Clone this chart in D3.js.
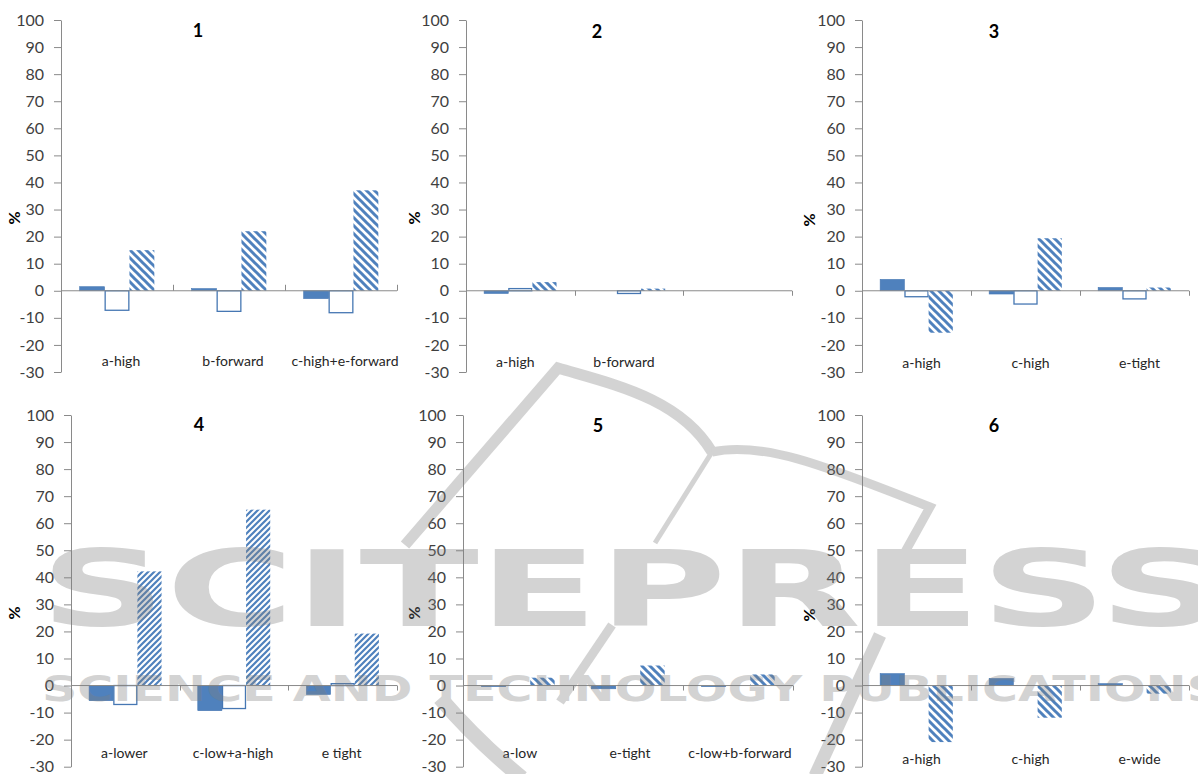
<!DOCTYPE html>
<html>
<head>
<meta charset="utf-8">
<script src="https://cdn.jsdelivr.net/npm/d3@7/dist/d3.min.js"></script>
<style>
  html, body { margin: 0; padding: 0; background: #ffffff; }
  svg { display: block; }
</style>
</head>
<body>
<svg id="chart" width="1198" height="774"></svg>
<script>
// ---- data ----
const panelTitles = ["1", "2", "3", "4", "5", "6"];

const categories1 = ["a-high", "b-forward", "c-high+e-forward"];
const categories2 = ["a-high", "b-forward", ""];
const categories3 = ["a-high", "c-high", "e-tight"];
const categories4 = ["a-lower", "c-low+a-high", "e tight"];
const categories5 = ["a-low", "e-tight", "c-low+b-forward"];
const categories6 = ["a-high", "c-high", "e-wide"];

// one row per panel, one value per category (%)
const solidValues = [
  [1.5, 0.8, -2.9],
  [-1.0, 0, null],
  [4.2, -1.2, 1.2],
  [-5.6, -9.3, -3.3],
  [-0.4, -1.2, -0.4],
  [4.4, 2.6, 0.7]
];
const outlineValues = [
  [-7.2, -7.6, -8.1],
  [0.8, -1.0, null],
  [-2.2, -4.9, -3.0],
  [-7.0, -8.5, 0.7],
  [0, 0, 0],
  [0, 0, 0]
];
const hatchedValues = [
  [15.0, 22.0, 37.1],
  [3.2, 0.8, null],
  [-15.5, 19.4, 1.2],
  [42.2, 65.0, 19.2],
  [2.9, 7.4, 4.1],
  [-20.9, -11.9, -3.0]
];

const yTickValues = [-30, -20, -10, 0, 10, 20, 30, 40, 50, 60, 70, 80, 90, 100];
const yDomain = [-30, 100];

// ---- layout ----
const allCategories = [categories1, categories2, categories3, categories4, categories5, categories6];
const layout = [
  { x0: 61,  x1: 397,  top: 20,  bottom: 372,   titleX: 198, titleY: 37,  pctX: 15,  pctY: 218, labelY: 366, labelDx: 4,  tickUp: true,  hatch: "hatchDown" },
  { x0: 466, x1: 792,  top: 20,  bottom: 372,   titleX: 597, titleY: 38,  pctX: 415, pctY: 218, labelY: 367, labelDx: -5, tickUp: false, hatch: "hatchDown" },
  { x0: 862, x1: 1189, top: 20,  bottom: 372,   titleX: 994, titleY: 38,  pctX: 810, pctY: 220, labelY: 368, labelDx: 5,  tickUp: false, hatch: "hatchDown" },
  { x0: 71,  x1: 397,  top: 415, bottom: 766.7, titleX: 199, titleY: 431, pctX: 15,  pctY: 613, labelY: 758, labelDx: -1, tickUp: false, hatch: "hatchUp" },
  { x0: 463, x1: 793,  top: 415, bottom: 766.7, titleX: 598, titleY: 432, pctX: 415, pctY: 613, labelY: 758, labelDx: 2,  tickUp: false, hatch: "hatchDown" },
  { x0: 862, x1: 1189, top: 415, bottom: 766.7, titleX: 994, titleY: 432, pctX: 810, pctY: 615, labelY: 764, labelDx: 5,  tickUp: false, hatch: "hatchDown" }
];

const BLUE = "#4F81BD";
const BAR_EDGE = "#4677B3";
const AXIS = "#8a8a8a";
const FONT = "Lato, 'Open Sans', sans-serif";

const svg = d3.select("#chart");
const defs = svg.append("defs");

// wide downward diagonal hatch
const pDown = defs.append("pattern")
  .attr("id", "hatchDown").attr("patternUnits", "userSpaceOnUse")
  .attr("width", 8).attr("height", 8);
pDown.append("rect").attr("width", 8).attr("height", 8).attr("fill", "#ffffff");
pDown.append("path")
  .attr("d", "M0,0 L8,8 M-2,6 L2,10 M6,-2 L10,2")
  .attr("stroke", BLUE).attr("stroke-width", 3).attr("fill", "none");

// upward diagonal hatch, finer
const pUp = defs.append("pattern")
  .attr("id", "hatchUp").attr("patternUnits", "userSpaceOnUse")
  .attr("width", 6).attr("height", 6);
pUp.append("rect").attr("width", 6).attr("height", 6).attr("fill", "#ffffff");
pUp.append("path")
  .attr("d", "M0,6 L6,0 M-1.5,1.5 L1.5,-1.5 M4.5,7.5 L7.5,4.5")
  .attr("stroke", BLUE).attr("stroke-width", 2.2).attr("fill", "none");

panelTitles.forEach((title, p) => {
  const L = layout[p];
  const cats = allCategories[p];
  const g = svg.append("g");

  const y = d3.scaleLinear().domain(yDomain).range([L.bottom, L.top]);
  const x = d3.scaleBand().domain(d3.range(cats.length)).range([L.x0, L.x1]).paddingInner(0).paddingOuter(0);
  const xs = d3.scaleBand().domain([0, 1, 2]).range([0, x.bandwidth()]).paddingInner(0).paddingOuter(0.75);

  // y axis
  const yAxis = d3.axisLeft(y)
    .tickValues(yTickValues)
    .tickSize(7).tickSizeOuter(0).tickPadding(10)
    .tickFormat(d => String(d));
  const ya = g.append("g").attr("transform", `translate(${L.x0},0)`).call(yAxis);
  ya.select(".domain").attr("stroke", AXIS);
  ya.selectAll(".tick line").attr("stroke", AXIS);
  ya.selectAll(".tick text")
    .attr("fill", "#3f3f3f")
    .style("font-family", FONT).style("font-size", "16px");

  // bars
  const series = [solidValues[p], outlineValues[p], hatchedValues[p]];
  series.forEach((vals, s) => {
    const data = vals.map((v, i) => ({ v, i })).filter(d => d.v !== null);
    const bars = g.append("g").selectAll("rect").data(data).join("rect")
      .attr("x", d => x(d.i) + xs(s))
      .attr("width", xs.bandwidth())
      .attr("y", d => y(Math.max(0, d.v)))
      .attr("height", d => Math.abs(y(d.v) - y(0)));
    if (s === 0) {
      bars.attr("fill", BLUE).attr("stroke", BAR_EDGE).attr("stroke-width", 0.6);
    } else if (s === 1) {
      bars.attr("fill", "#ffffff").attr("stroke", BAR_EDGE).attr("stroke-width", 1.3)
        .attr("x", d => x(d.i) + xs(s) + 0.6)
        .attr("width", xs.bandwidth() - 1.2);
    } else {
      bars.attr("fill", `url(#${L.hatch})`);
    }
  });

  // x axis line at zero, with category dividers
  const y0 = y(0);
  g.append("line")
    .attr("x1", L.x0).attr("x2", L.x1)
    .attr("y1", y0).attr("y2", y0)
    .attr("stroke", AXIS).attr("stroke-width", 1);
  const dividers = d3.range(1, cats.length + 1).map(i => L.x0 + i * x.step());
  g.append("g").selectAll("line").data(dividers).join("line")
    .attr("x1", d => Math.round(d) + 0.5).attr("x2", d => Math.round(d) + 0.5)
    .attr("y1", y0).attr("y2", L.tickUp ? y0 - 6 : y0 + 5)
    .attr("stroke", AXIS).attr("stroke-width", 1);

  // category labels
  g.append("g").selectAll("text").data(cats).join("text")
    .attr("x", (d, i) => x(i) + x.bandwidth() / 2 + L.labelDx)
    .attr("y", L.labelY)
    .attr("text-anchor", "middle")
    .attr("fill", "#262626")
    .style("font-family", FONT).style("font-size", "14px")
    .text(d => d);

  // panel title
  g.append("text")
    .attr("x", L.titleX).attr("y", L.titleY)
    .attr("text-anchor", "middle")
    .attr("fill", "#000000")
    .style("font-family", FONT).style("font-size", "18px").style("font-weight", "bold")
    .text(title);

  // y axis title
  g.append("text")
    .attr("transform", `translate(${L.pctX + 5},${L.pctY}) rotate(-90)`)
    .attr("text-anchor", "middle")
    .attr("fill", "#000000")
    .style("font-family", FONT).style("font-size", "16px").style("font-weight", "bold")
    .text("%");
});

// publisher watermark laid over the page
const wm = svg.append("g").attr("opacity", 0.34).attr("pointer-events", "none");
const swoosh = [
  { d: "M405,545 L558,368 C612,384 680,398 712,452", w: 11 },
  { d: "M712,452 C765,440 835,470 930,507 L905,552", w: 9 },
  { d: "M712,452 L655,543", w: 5 },
  { d: "M880,635 L815,776", w: 13 },
  { d: "M612,625 L560,702", w: 9 },
  { d: "M440,698 Q478,742 522,778", w: 15 }
];
wm.selectAll("path").data(swoosh).join("path")
  .attr("d", d => d.d)
  .attr("fill", "none")
  .attr("stroke", "#7f7f7f")
  .attr("stroke-width", d => d.w);
wm.append("text")
  .attr("x", 40).attr("y", 626)
  .attr("textLength", 1185).attr("lengthAdjust", "spacingAndGlyphs")
  .attr("fill", "#7f7f7f")
  .style("font-family", "'DejaVu Sans', sans-serif").style("font-size", "106px").style("font-weight", "bold")
  .text("SCITEPRESS");
wm.append("text")
  .attr("x", 42).attr("y", 701)
  .attr("textLength", 1180).attr("lengthAdjust", "spacingAndGlyphs")
  .attr("fill", "#7f7f7f")
  .style("font-family", "'DejaVu Sans', sans-serif").style("font-size", "35px").style("font-weight", "bold")
  .text("SCIENCE AND TECHNOLOGY PUBLICATIONS");
</script>
</body>
</html>
